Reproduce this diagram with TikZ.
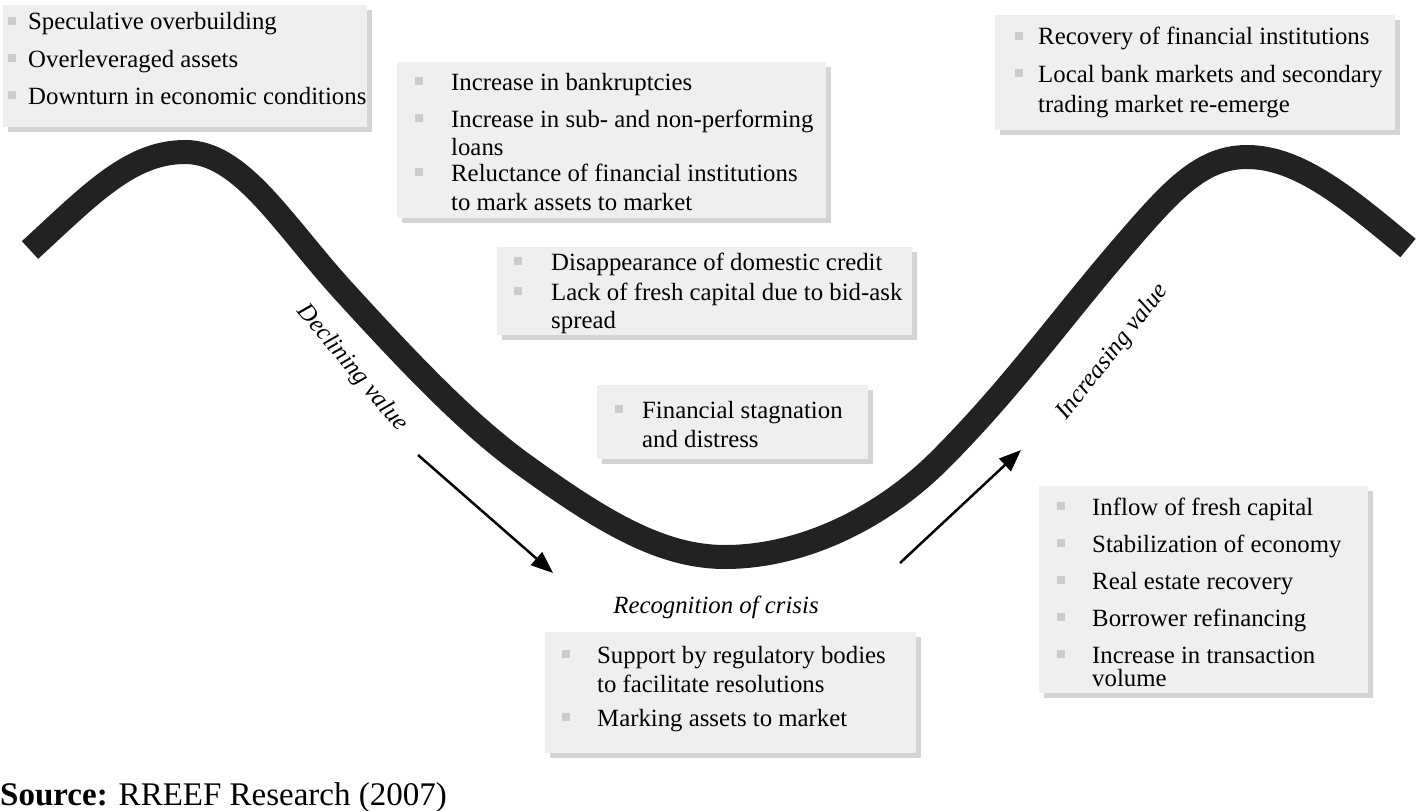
\documentclass[tikz,border=0pt]{standalone}
\usepackage{fontspec}
\setmainfont{Liberation Serif}
\usetikzlibrary{arrows.meta,shadows}

\definecolor{boxgray}{HTML}{EFEFEF}
\definecolor{shadowgray}{HTML}{D4D4D4}
\definecolor{bulletgray}{HTML}{CCCCCC}
\definecolor{curvegray}{HTML}{222222}

\tikzset{
  infobox/.style={fill=boxgray, draw=none, anchor=north west, inner sep=0pt,
    drop shadow={shadow xshift=5pt, shadow yshift=-5pt, fill=shadowgray, opacity=1}},
  itemtext/.style={anchor=base west, inner sep=0pt, font=\fontsize{24.8}{28}\selectfont},
  sqbullet/.style={fill=bulletgray, minimum size=8pt, inner sep=0pt},
  valuelabel/.style={inner sep=0pt, font=\fontsize{24.8}{28}\selectfont\itshape},
  trendarrow/.style={line width=2.5pt, -{Triangle[length=22pt,width=17pt]}},
}

% bullet + text: name, bullet x, text x, baseline y, text
\newcommand{\bitem}[5]{%
  \node[sqbullet] (#1-b) at (#2,#4-9) {};
  \node[itemtext] (#1) at (#3,#4) {#5};}
% continuation line: name, text x, baseline y, text
\newcommand{\contline}[4]{\node[itemtext] (#1) at (#2,#3) {#4};}

\begin{document}
\begin{tikzpicture}[x=1pt, y=-1pt]
    \useasboundingbox (0,0) rectangle (1417,811);

    % Boxes
    \node[infobox, minimum width=364pt, minimum height=122pt] (boxtop) at (3,5) {};
    \node[infobox, minimum width=429pt, minimum height=156pt] (boxbank) at (397,62) {};
    \node[infobox, minimum width=400pt, minimum height=115pt] (boxrecov) at (995,15) {};
    \node[infobox, minimum width=415pt, minimum height=88pt] (boxcredit) at (497,247) {};
    \node[infobox, minimum width=271pt, minimum height=74pt] (boxstag) at (597,385) {};
    \node[infobox, minimum width=371pt, minimum height=121pt] (boxsupport) at (545,632) {};
    \node[infobox, minimum width=329pt, minimum height=207pt] (boxinflow) at (1039,486) {};

    % The cycle
    \draw[line width=24pt, curvegray]
      (30,250) .. controls (90,195) and (130,152) .. (185,152)
      .. controls (240,152) and (280,220) .. (340,287)
      .. controls (420,375) and (470,425) .. (520,462)
      .. controls (600,520) and (660,557) .. (725,557)
      .. controls (800,557) and (880,520) .. (940,460)
      .. controls (1010,390) and (1060,320) .. (1120,250)
      .. controls (1170,192) and (1200,157) .. (1247,157)
      .. controls (1300,157) and (1350,200) .. (1408,248);

    % Top left
    \bitem{spec}{12}{28}{30}{Speculative overbuilding}
    \bitem{overlev}{12}{28}{67}{Overleveraged assets}
    \bitem{downturn}{12}{28}{104}{Downturn in economic conditions}

    % Bankruptcies
    \bitem{bankr}{419}{451}{90}{Increase in bankruptcies}
    \bitem{subperf}{419}{451}{127}{Increase in sub- and non-performing}
    \contline{loans}{451}{155}{loans}
    \bitem{reluct}{419}{451}{181}{Reluctance of financial institutions}
    \contline{markmkt}{451}{210}{to mark assets to market}

    % Credit
    \bitem{disapp}{518}{551}{270}{Disappearance of domestic credit}
    \bitem{lackcap}{518}{551}{300}{Lack of fresh capital due to bid-ask}
    \contline{spread}{551}{328}{spread}

    % Stagnation
    \bitem{stag}{619}{642}{418}{Financial stagnation}
    \contline{distress}{642}{447}{and distress}

    % Support
    \bitem{support}{566}{597}{663}{Support by regulatory bodies}
    \contline{facil}{597}{692}{to facilitate resolutions}
    \bitem{marking}{566}{597}{726}{Marking assets to market}

    % Recovery
    \bitem{recovfin}{1019}{1038}{45}{Recovery of financial institutions}
    \bitem{localbank}{1019}{1038}{82}{Local bank markets and secondary}
    \contline{trading}{1038}{112}{trading market re-emerge}

    % Inflow
    \bitem{inflow}{1061}{1092}{515}{Inflow of fresh capital}
    \bitem{stabil}{1061}{1092}{552}{Stabilization of economy}
    \bitem{realest}{1061}{1092}{589}{Real estate recovery}
    \bitem{borrow}{1061}{1092}{626}{Borrower refinancing}
    \bitem{transvol}{1061}{1092}{663}{Increase in transaction}
    \contline{volume}{1092}{686}{volume}

    % Trend labels
    \node[valuelabel, rotate=-50] (declining) at (352,368) {Declining value};
    \node[valuelabel, rotate=52] (increasing) at (1113,352) {Increasing value};
    \node[valuelabel, anchor=base] (recognition) at (716,613) {Recognition of crisis};

    % Trend arrows
    \coordinate (declstart) at (418,455);
    \coordinate (declend) at (553,573);
    \coordinate (incstart) at (900,563);
    \coordinate (incend) at (1021,450);
    \draw[trendarrow] (declstart) -- (declend);
    \draw[trendarrow] (incstart) -- (incend);

    % Source
    \node[anchor=base west, inner sep=0pt, font=\fontsize{33}{36}\selectfont] (source) at (0,805)
      {\textbf{Source:} RREEF Research (2007)};
\end{tikzpicture}
\end{document}
